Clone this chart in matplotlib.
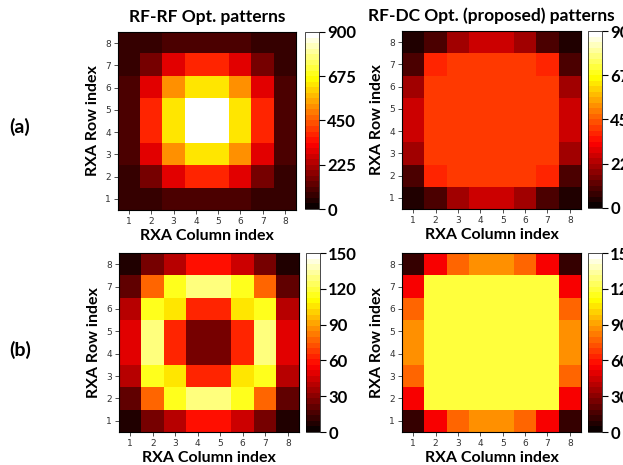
import numpy as np
import matplotlib
matplotlib.use('Agg')
import matplotlib.pyplot as plt

# rows listed from row 1 (bottom) to row 8 (top), columns 1..8
rfrf_a = [
    [60, 60, 100, 100, 100, 100, 60, 60],
    [60, 165, 290, 370, 370, 290, 165, 60],
    [100, 290, 520, 635, 635, 520, 290, 100],
    [100, 370, 635, 900, 900, 635, 370, 100],
    [100, 370, 635, 900, 900, 635, 370, 100],
    [100, 290, 520, 635, 635, 520, 290, 100],
    [60, 165, 290, 370, 370, 290, 165, 60],
    [60, 60, 100, 100, 100, 100, 60, 60],
]
rfdc_a = [
    [30, 100, 205, 265, 265, 205, 100, 30],
    [100, 370, 405, 405, 405, 405, 370, 100],
    [205, 405, 405, 405, 405, 405, 405, 205],
    [265, 405, 405, 405, 405, 405, 405, 265],
    [265, 405, 405, 405, 405, 405, 405, 265],
    [205, 405, 405, 405, 405, 405, 405, 205],
    [100, 370, 405, 405, 405, 405, 370, 100],
    [30, 100, 205, 265, 265, 205, 100, 30],
]
rfrf_b = [
    [8, 24, 42, 57, 57, 45, 24, 8],
    [20, 76, 114, 127, 127, 114, 76, 20],
    [40, 114, 107, 62, 62, 107, 114, 40],
    [48, 127, 62, 27, 27, 62, 127, 48],
    [48, 127, 62, 27, 27, 62, 127, 48],
    [40, 114, 107, 62, 62, 107, 114, 40],
    [20, 76, 114, 127, 127, 114, 76, 20],
    [8, 24, 42, 57, 57, 45, 24, 8],
]
rfdc_b = [
    [13, 55, 75, 89, 89, 75, 55, 13],
    [55, 121, 121, 121, 121, 121, 121, 55],
    [75, 121, 121, 121, 121, 121, 121, 75],
    [89, 121, 121, 121, 121, 121, 121, 89],
    [89, 121, 121, 121, 121, 121, 121, 89],
    [75, 121, 121, 121, 121, 121, 121, 75],
    [55, 121, 121, 121, 121, 121, 121, 55],
    [13, 55, 75, 89, 89, 75, 55, 13],
]
ticks_a = [0, 225, 450, 675, 900]
ticks_b = [0, 30, 60, 90, 120, 150]
idx = [1, 2, 3, 4, 5, 6, 7, 8]

W, H = 623, 465
cmap = plt.get_cmap('hot', 32)

fig = plt.figure(figsize=(W / 100, H / 100), dpi=100)


def box(x0, y0, x1, y1):
    return [x0 / W, 1 - y1 / H, (x1 - x0) / W, (y1 - y0) / H]


def panel(data, ticks, ax_box, cb_box, xlab=True):
    ax = fig.add_axes(box(*ax_box))
    im = ax.imshow(np.array(data), origin='lower', cmap=cmap, vmin=0,
                   vmax=ticks[-1], extent=(0.5, 8.5, 0.5, 8.5), aspect='auto',
                   interpolation='nearest')
    ax.set_xticks(idx)
    ax.set_yticks(idx)
    ax.tick_params(labelsize=6.5, length=3, width=0.6, colors='#333333', pad=2)
    ax.set_xlabel('RXA Column index', fontsize=11.5, fontweight='bold',
                  family='Lato', labelpad=2)
    ax.set_ylabel('RXA Row index', fontsize=11.5, fontweight='bold',
                  family='Lato', labelpad=4)
    for s in ax.spines.values():
        s.set_linewidth(0.8)
    cax = fig.add_axes(box(*cb_box))
    cb = fig.colorbar(im, cax=cax, ticks=ticks)
    cb.outline.set_linewidth(0.5)
    cax.tick_params(labelsize=12, length=4, width=0.8, pad=2)
    for t in cax.get_yticklabels():
        t.set_fontweight('bold')
        t.set_family('Lato')
    return ax


ax1 = panel(rfrf_a, ticks_a, (118, 32, 296, 210), (305, 32, 319, 209))
ax2 = panel(rfdc_a, ticks_a, (402, 31, 581, 209), (588, 31, 602, 208))
ax3 = panel(rfrf_b, ticks_b, (119, 253, 299, 432), (306, 253, 320, 432))
ax4 = panel(rfdc_b, ticks_b, (402, 253, 581, 432), (588, 253, 602, 432))

ax1.set_title('RF-RF Opt. patterns', fontsize=12.5, fontweight='bold',
              family='Lato', pad=7)
ax2.set_title('RF-DC Opt. (proposed) patterns', fontsize=12.5,
              fontweight='bold', family='Lato', pad=7)

fig.text(20 / W, 1 - 127 / H, '(a)', fontsize=14, fontweight='bold',
         family='Lato', ha='center', va='center')
fig.text(20 / W, 1 - 350 / H, '(b)', fontsize=14, fontweight='bold',
         family='Lato', ha='center', va='center')

fig.savefig('out.png', dpi=100)
